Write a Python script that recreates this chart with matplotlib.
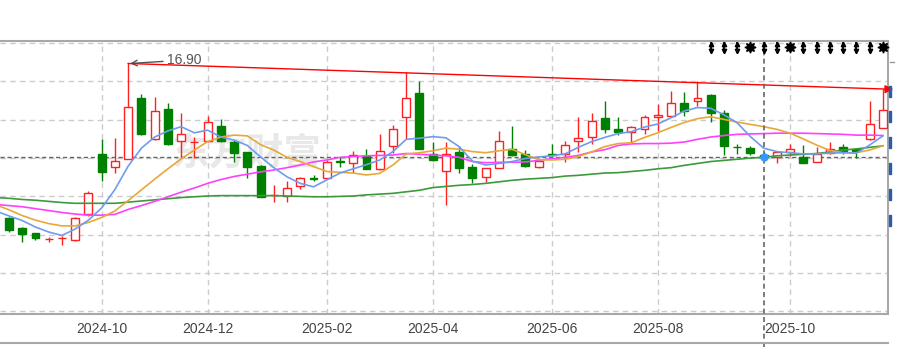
import numpy as np
import matplotlib
matplotlib.use("Agg")
from matplotlib import pyplot as plt
from matplotlib.patches import Rectangle
from matplotlib.lines import Line2D

plt.rcParams['font.family'] = ['Liberation Sans', 'Noto Sans CJK SC', 'DejaVu Sans']

# === weekly candles (index 0 = week of 2024-08-19) ===
opens = [12.87, 12.61, 12.47, 12.31, 12.34, 12.29, 12.97, 14.53, 14.21, 14.41,
         15.99, 14.93, 15.70, 14.88, 14.84, 14.88, 15.27, 14.84, 14.58, 14.23,
         13.46, 13.45, 13.70, 13.90, 13.91, 14.35, 14.29, 14.49, 14.14, 14.75,
         15.49, 16.12, 14.54, 14.09, 14.58, 14.19, 13.93, 14.16, 14.66, 14.54,
         14.21, 14.55, 14.55, 14.88, 14.97, 15.47, 15.18, 15.10, 15.19, 15.49,
         15.54, 15.86, 15.91, 16.08, 15.60, 14.73, 14.69, 14.52, 14.45, 14.59,
         14.45, 14.34, 14.57, 14.71, 14.67, 14.92, 15.22]
highs = [12.89, 12.63, 12.47, 12.38, 12.40, 12.89, 13.56, 14.92, 14.95, 16.90,
         16.10, 16.03, 15.86, 15.60, 14.98, 15.54, 15.44, 14.90, 14.60, 14.25,
         13.74, 13.82, 13.94, 13.98, 14.39, 14.45, 14.62, 14.68, 15.05, 15.29,
         16.68, 16.43, 14.85, 14.84, 14.75, 14.28, 14.16, 15.14, 15.27, 14.65,
         14.35, 14.81, 14.88, 15.49, 15.60, 15.93, 15.50, 15.28, 15.56, 15.84,
         16.18, 16.15, 16.43, 16.10, 15.69, 14.80, 14.75, 14.59, 14.58, 14.79,
         14.77, 14.71, 14.84, 14.81, 14.68, 15.93, 16.23]
lows = [12.50, 12.24, 12.29, 12.24, 12.16, 12.27, 12.93, 13.82, 14.03, 14.41,
        15.03, 14.90, 14.77, 14.42, 14.42, 14.86, 14.86, 14.33, 13.92, 13.42,
        13.29, 13.29, 13.62, 13.83, 13.88, 14.21, 14.04, 14.14, 14.12, 14.56,
        14.93, 14.66, 14.35, 13.21, 14.05, 13.77, 13.81, 14.16, 14.49, 14.20,
        14.18, 14.49, 14.32, 14.60, 14.80, 15.09, 15.03, 14.85, 15.06, 15.15,
        15.49, 15.53, 15.79, 15.38, 14.51, 14.54, 14.50, 14.43, 14.30, 14.49,
        14.31, 14.32, 14.54, 14.55, 14.42, 14.90, 15.22]
closes = [12.55, 12.45, 12.34, 12.32, 12.35, 12.87, 13.51, 14.07, 14.35, 15.76,
          15.05, 15.67, 14.79, 15.05, 14.85, 15.36, 14.88, 14.56, 14.21, 13.42,
          13.47, 13.66, 13.90, 13.88, 14.34, 14.32, 14.52, 14.14, 14.62, 15.20,
          16.01, 14.66, 14.37, 14.54, 14.18, 13.91, 14.16, 14.87, 14.51, 14.22,
          14.35, 14.51, 14.77, 14.95, 15.40, 15.18, 15.12, 15.24, 15.49, 15.56,
          15.86, 15.67, 16.01, 15.60, 14.75, 14.72, 14.57, 14.46, 14.58, 14.66,
          14.31, 14.53, 14.68, 14.62, 14.62, 15.32, 15.69]

# === moving averages (index -1 .. 66) ===
ma5 = [13.05, 12.92, 12.80, 12.63, 12.50, 12.41, 12.58, 12.81, 13.13, 13.61,
       14.22, 14.69, 14.98, 15.14, 15.25, 15.09, 15.16, 14.98, 14.90, 14.76,
       14.46, 14.18, 13.94, 13.77, 13.68, 13.86, 14.04, 14.15, 14.26, 14.38,
       14.60, 14.92, 14.95, 14.99, 14.96, 14.73, 14.35, 14.25, 14.29, 14.34,
       14.42, 14.46, 14.49, 14.54, 14.71, 14.86, 14.97, 15.07, 15.12, 15.24,
       15.32, 15.48, 15.66, 15.75, 15.73, 15.56, 15.35, 14.99, 14.69, 14.60,
       14.57, 14.54, 14.54, 14.56, 14.57, 14.56, 14.77, 15.01]
ma10 = [13.21, 13.08, 12.93, 12.81, 12.72, 12.66, 12.66, 12.75, 12.88, 13.05,
        13.32, 13.60, 13.88, 14.15, 14.41, 14.64, 14.86, 14.98, 15.03, 15.01,
        14.78, 14.64, 14.45, 14.34, 14.21, 14.08, 14.06, 14.04, 13.99, 14.03,
        14.25, 14.54, 14.57, 14.62, 14.69, 14.66, 14.60, 14.57, 14.62, 14.66,
        14.52, 14.39, 14.38, 14.40, 14.47, 14.59, 14.73, 14.81, 14.83, 14.97,
        15.09, 15.23, 15.36, 15.46, 15.51, 15.44, 15.37, 15.31, 15.25, 15.18,
        15.08, 14.93, 14.77, 14.63, 14.57, 14.57, 14.64, 14.75]
ma20 = [13.22, 13.19, 13.16, 13.11, 13.06, 13.01, 12.97, 12.94, 12.94, 12.96,
        13.09, 13.19, 13.30, 13.42, 13.54, 13.65, 13.77, 13.87, 13.95, 14.01,
        14.07, 14.12, 14.18, 14.25, 14.33, 14.38, 14.45, 14.47, 14.49, 14.50,
        14.51, 14.55, 14.53, 14.51, 14.49, 14.45, 14.34, 14.31, 14.32, 14.32,
        14.33, 14.37, 14.41, 14.45, 14.50, 14.59, 14.65, 14.76, 14.80, 14.81,
        14.81, 14.82, 14.85, 14.92, 14.98, 15.02, 15.05, 15.06, 15.07, 15.08,
        15.08, 15.08, 15.07, 15.06, 15.05, 15.03, 15.03, 15.02]
ma60 = [13.40, 13.38, 13.35, 13.33, 13.30, 13.27, 13.25, 13.25, 13.25, 13.25,
        13.28, 13.31, 13.34, 13.37, 13.40, 13.42, 13.44, 13.45, 13.45, 13.45,
        13.45, 13.45, 13.44, 13.43, 13.42, 13.42, 13.43, 13.44, 13.47, 13.49,
        13.51, 13.55, 13.59, 13.66, 13.69, 13.72, 13.74, 13.77, 13.81, 13.85,
        13.88, 13.90, 13.92, 13.96, 13.98, 14.01, 14.04, 14.05, 14.08, 14.11,
        14.15, 14.18, 14.24, 14.29, 14.34, 14.37, 14.40, 14.43, 14.45, 14.49,
        14.51, 14.53, 14.55, 14.59, 14.64, 14.67, 14.71, 14.75]

# === axis labels / markers ===
tick_idx = [7, 15, 24, 32, 41, 49, 59]
tick_labels = ['2024-10', '2024-12', '2025-02', '2025-04', '2025-06', '2025-08', '2025-10']
peak_idx, peak_label = 9, '16.90'
trend_end_price = 16.23
cross_idx, cross_price = 57, 14.46
event_idx = list(range(53, 67))
event_star = [56, 59, 66]

RED, GREEN = '#ff2020', '#008000'

fig = plt.figure(figsize=(8.97, 3.47), dpi=100)
ax = fig.add_axes([0, 33.5 / 347, 888 / 897, 272.5 / 347])
ax.set_xlim(-0.68, 66.39)
ax.set_ylim(10.373, 17.487)

# grid
for p in np.arange(10.435, 17.5, 1.0):
    ax.axhline(p, color='#cccccc', lw=1, ls=(0, (4, 3)), zorder=0)
for t in tick_idx:
    ax.axvline(t, color='#cccccc', lw=1, ls=(0, (4, 3)), zorder=0)

# watermark
ax.text(18.0, 14.55, '东方财富', fontsize=27, color='#e8e8e8', fontweight='bold',
        family=['Noto Sans CJK SC'], ha='center', va='center', zorder=0.5)

# candles
w = 0.6
for i in range(len(opens)):
    o, h, l, c = opens[i], highs[i], lows[i], closes[i]
    up = c >= o
    col = RED if up else GREEN
    top, bot = max(o, c), min(o, c)
    if up:
        ax.vlines(i, top, h, color=col, lw=1, zorder=2)
        ax.vlines(i, l, bot, color=col, lw=1, zorder=2)
    else:
        ax.vlines(i, l, h, color=col, lw=1, zorder=2)
    ax.add_patch(Rectangle((i - w / 2, bot), w, max(top - bot, 0.004),
                           facecolor='white' if up else col, edgecolor=col, lw=1, zorder=3))

# moving averages
ma_x = np.arange(-1, len(opens))
ax.plot(ma_x, ma60, color='#3c9a3c', lw=1.2, zorder=4)
ax.plot(ma_x, ma20, color='#ff40ff', lw=1.2, zorder=4)
ax.plot(ma_x, ma10, color='#e8a838', lw=1.2, zorder=4)
ax.plot(ma_x, ma5, color='#6f9cf0', lw=1.2, zorder=4)

# trend line from peak with arrow
ax.plot([peak_idx, 66.39], [highs[peak_idx], trend_end_price], color='red', lw=1, zorder=5)
ax.annotate('', xy=(67.0, trend_end_price), xytext=(66.2, trend_end_price),
            arrowprops=dict(arrowstyle='-|>', color='red', lw=1, mutation_scale=12),
            annotation_clip=False, zorder=6)
ax.annotate(peak_label, xy=(peak_idx + 0.15, highs[peak_idx]), xytext=(11.95, 16.99),
            fontsize=10, color='#555555', ha='left', va='center',
            arrowprops=dict(arrowstyle='->', color='#555555', lw=1, shrinkA=1, shrinkB=0))

# crosshair
ax.axhline(cross_price, color='#666666', lw=1, ls=(0, (3, 2)), zorder=1)
ax.axvline(cross_idx, ymin=-0.123, ymax=0.993, color='#666666', lw=1.2,
           ls=(0, (3, 2)), clip_on=False, zorder=6)
ax.plot(cross_idx, cross_price, 'o', color='#3399ff', ms=5, zorder=7)

# event icons at top
for i in event_idx:
    if i in event_star:
        ax.plot(i, 17.32, marker=(8, 1, 0), color='black', ms=8, zorder=7, clip_on=False)
    else:
        ax.plot([i, i], [17.43, 17.21], color='black', lw=1.3, zorder=7, clip_on=False)
        ax.plot(i, 17.41, marker='^', color='black', ms=3.2, zorder=7, clip_on=False)
        ax.plot(i, 17.23, marker='v', color='black', ms=3.2, zorder=7, clip_on=False)

# axes frame
for s in ['top', 'right', 'bottom']:
    ax.spines[s].set_color('#a8a8a8')
    ax.spines[s].set_linewidth(1.5)
ax.spines['left'].set_visible(False)
ax.set_yticks([])
ax.set_xticks(tick_idx)
ax.set_xticklabels(tick_labels, fontsize=10, color='#444444')
ax.tick_params(axis='x', length=0, pad=6)

# label strip bottom line
fig.add_artist(Line2D([0, 888 / 897], [4 / 347, 4 / 347], color='#a8a8a8', lw=1.5))

# partially visible right-panel marks
for top_px in [86, 111, 137, 163, 189, 215]:
    fig.add_artist(Rectangle((889 / 897, (347 - top_px - 11) / 347), 2 / 897, 11 / 347,
                             color='#2a5caa'))
fig.add_artist(Line2D([890 / 897, 894 / 897], [(347 - 62) / 347] * 2, color='#999999', lw=1))

plt.savefig('out.png', dpi=100)
